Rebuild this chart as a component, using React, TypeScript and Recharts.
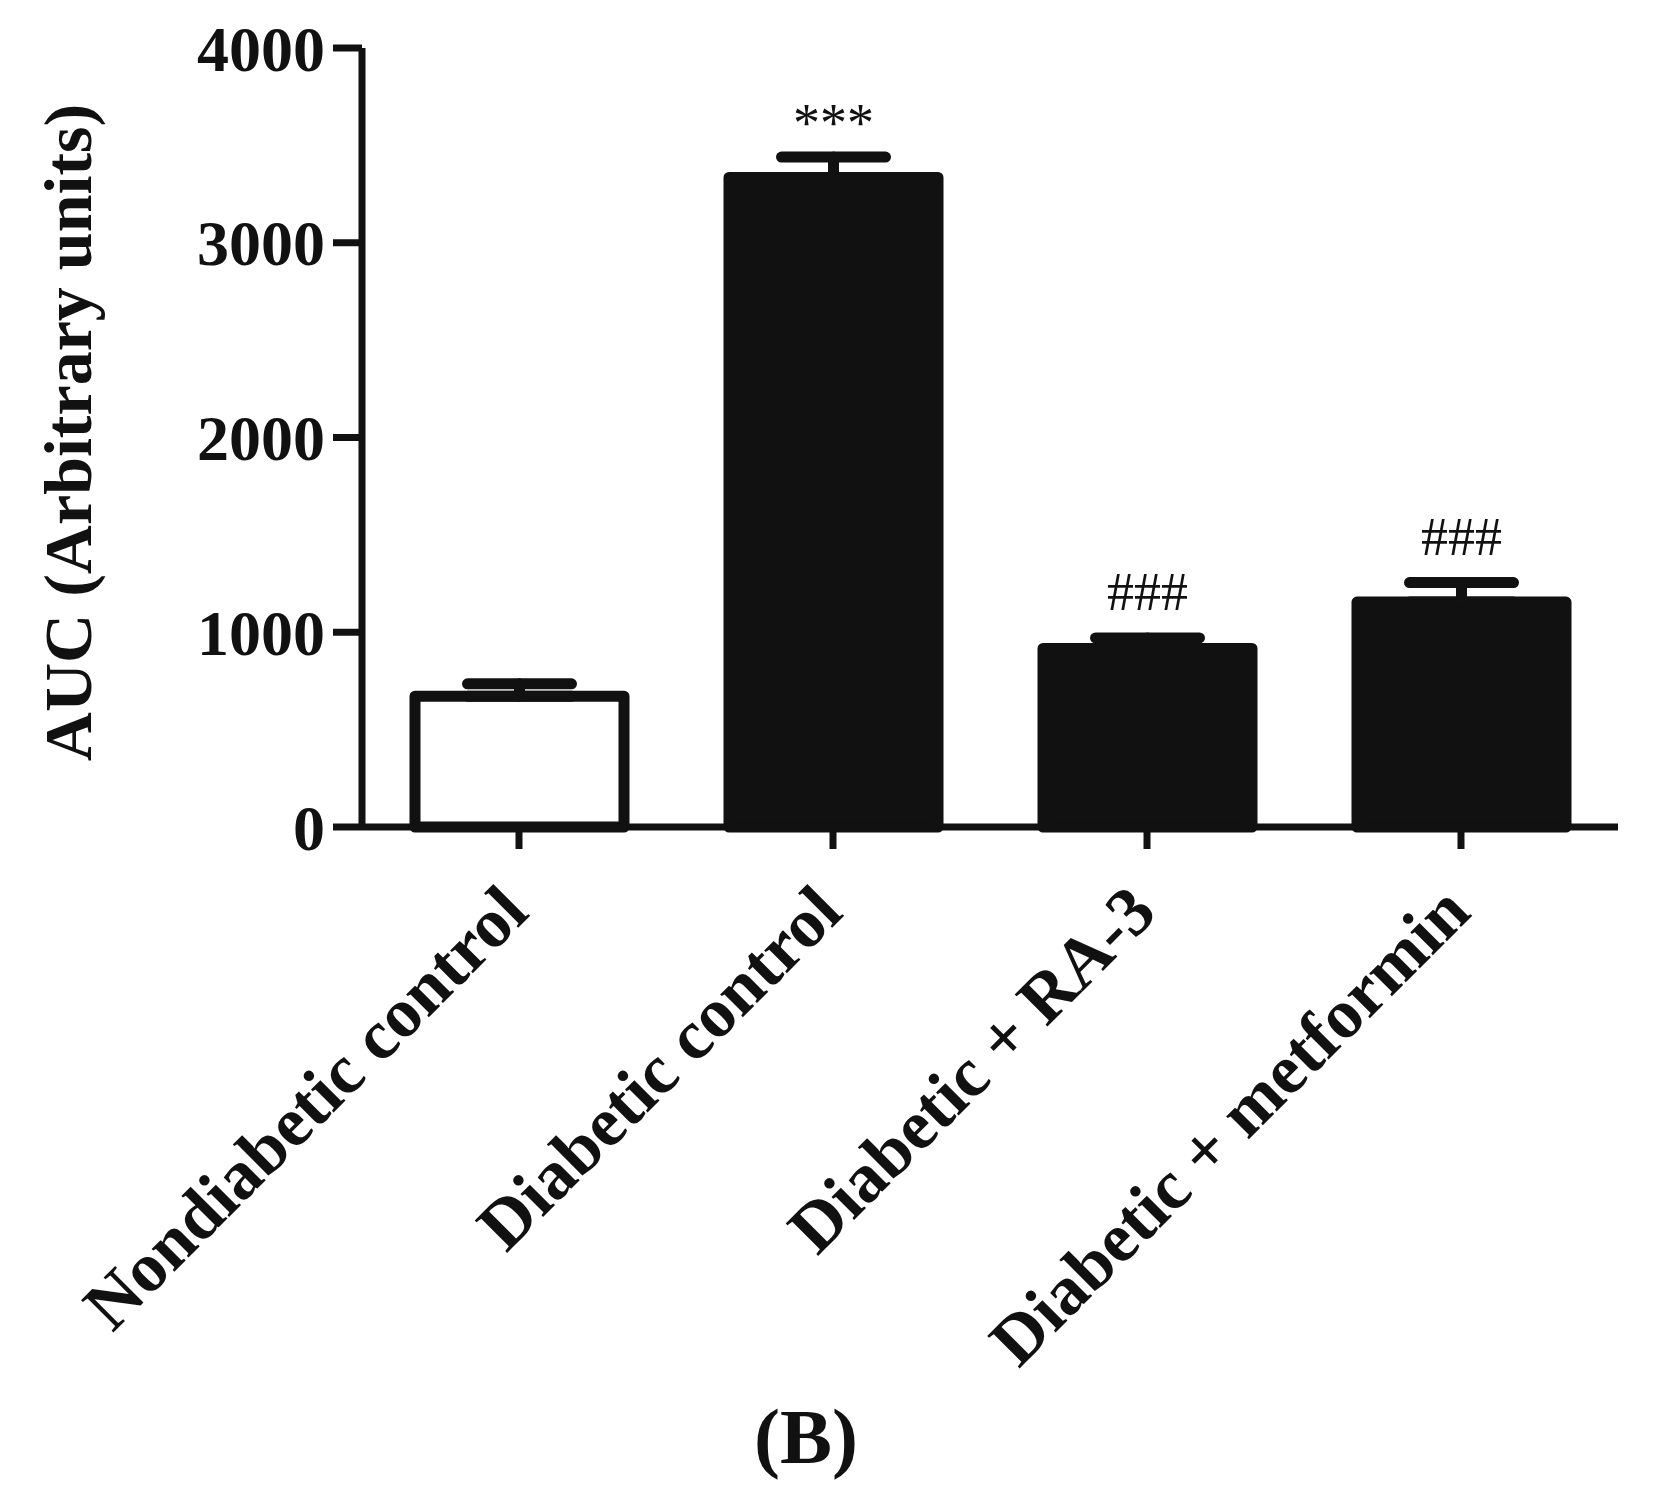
import React from "react";
import { BarChart, Bar, XAxis, YAxis, ErrorBar, Cell, Label } from "recharts";

const categories = ["Nondiabetic control", "Diabetic control", "Diabetic + RA-3", "Diabetic + metformin"];
const means = [672, 3335, 917, 1155];
const errors = [63, 105, 54, 100];
const marks = ["", "***", "###", "###"];
const yTicks = [0, 1000, 2000, 3000, 4000];

const data = categories.map((name, i) => ({
  name,
  mean: means[i],
  err: [0, errors[i]],
  sem: errors[i],
  mark: marks[i],
}));

const FONT = '"Liberation Serif", "Times New Roman", serif';
const INK = "#111111";

// bar rect plus the significance mark above its error cap
function BarShape(props: any) {
  const { x, y, width, height, payload, index } = props;
  const perUnit = payload.mean ? height / payload.mean : 0;
  const capY = y - payload.sem * perUnit;
  const isStars = payload.mark === "***";
  return (
    <g>
      <rect
        x={x}
        y={y}
        width={width}
        height={height}
        fill={index === 0 ? "#ffffff" : INK}
        stroke={INK}
        strokeWidth={11}
        strokeLinejoin="round"
      />
      {payload.mark ? (
        <text
          x={x + width / 2}
          y={capY - (isStars ? 16 : 28)}
          textAnchor="middle"
          fontFamily={FONT}
          fontSize={54}
          fill={INK}
        >
          {payload.mark}
        </text>
      ) : null}
    </g>
  );
}

function XTick(props: any) {
  const { x, y, payload } = props;
  return (
    <g transform={`translate(${x + 12},${y + 66})`}>
      <text
        transform="rotate(-45)"
        textAnchor="end"
        fontFamily={FONT}
        fontWeight="bold"
        fontSize={70}
        fill={INK}
      >
        {payload.value}
      </text>
    </g>
  );
}

function YTitle(props: any) {
  const vb = props.viewBox || {};
  const cy = (vb.y ?? 48) + (vb.height ?? 779) / 2 - 5;
  const cx = 91;
  return (
    <text
      x={cx}
      y={cy}
      textAnchor="middle"
      transform={`rotate(-90 ${cx} ${cy})`}
      fontFamily={FONT}
      fontWeight="bold"
      fontSize={68}
      fill={INK}
    >
      AUC (Arbitrary units)
    </text>
  );
}

export default function App() {
  return (
    <div style={{ position: "absolute", left: 0, top: 0, width: 1660, height: 1498, background: "#fff" }}>
      <BarChart
        width={1660}
        height={1498}
        data={data}
        margin={{ top: 48, right: 42, left: 0, bottom: 171 }}
        barSize={209}
      >
        <YAxis
          width={362}
          domain={[0, 4000]}
          ticks={yTicks}
          interval={0}
          tickSize={29}
          tickMargin={8}
          axisLine={{ stroke: INK, strokeWidth: 7 }}
          tickLine={{ stroke: INK, strokeWidth: 7 }}
          tick={{ fill: INK, fontSize: 64, fontWeight: "bold", fontFamily: FONT }}
        >
          <Label content={<YTitle />} />
        </YAxis>
        <XAxis
          dataKey="name"
          height={500}
          interval={0}
          tickSize={22}
          tickMargin={0}
          axisLine={{ stroke: INK, strokeWidth: 7 }}
          tickLine={{ stroke: INK, strokeWidth: 7 }}
          tick={<XTick />}
        />
        <Bar dataKey="mean" isAnimationActive={false} shape={<BarShape />}>
          {data.map((d, i) => (
            <Cell key={d.name} fill={i === 0 ? "#ffffff" : INK} />
          ))}
          <ErrorBar
            dataKey="err"
            direction="y"
            width={52}
            stroke={INK}
            strokeWidth={11}
            strokeLinecap="round"
            isAnimationActive={false}
          />
        </Bar>
      </BarChart>
      <div
        style={{
          position: "absolute",
          left: 0,
          top: 1398,
          width: 1612,
          textAlign: "center",
          fontFamily: FONT,
          fontWeight: "bold",
          fontSize: 78,
          lineHeight: "78px",
          color: INK,
        }}
      >
        (B)
      </div>
    </div>
  );
}
